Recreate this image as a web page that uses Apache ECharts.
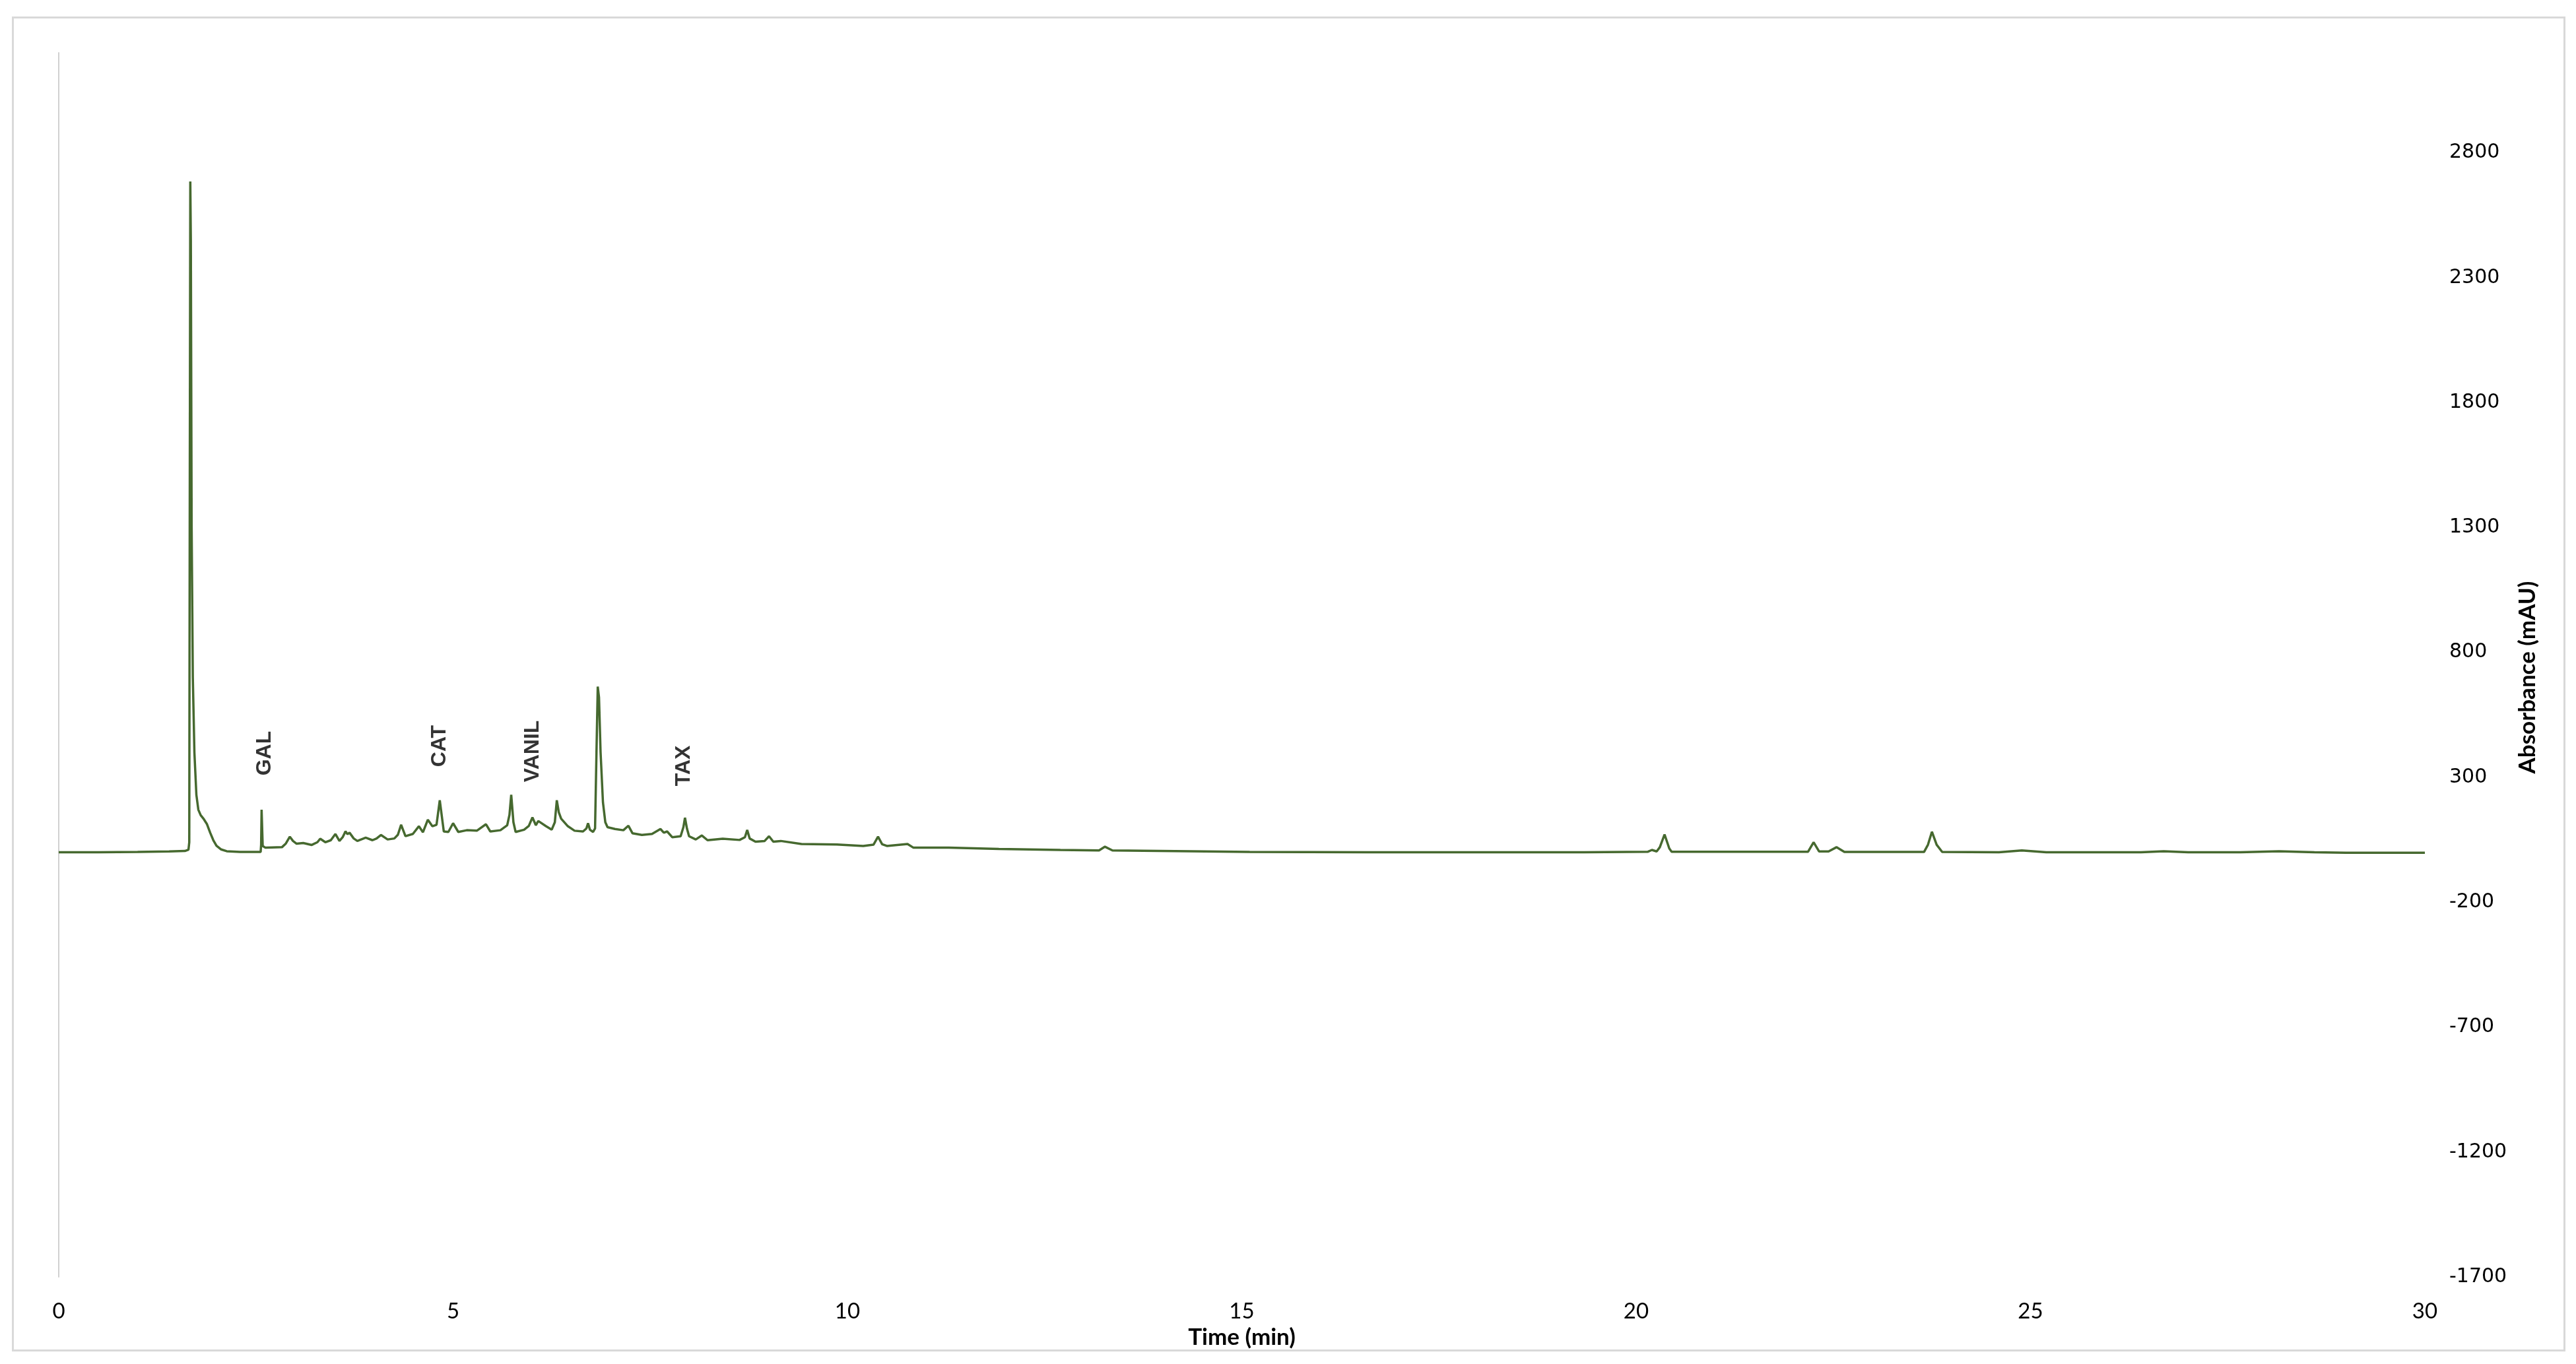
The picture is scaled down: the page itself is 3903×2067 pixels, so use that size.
<!DOCTYPE html>
<html>
<head>
<meta charset="utf-8">
<script src="https://cdn.jsdelivr.net/npm/echarts@6/dist/echarts.min.js"></script>
<style>
html,body{margin:0;padding:0;background:#ffffff;}
#chart{width:3903px;height:2067px;}
</style>
</head>
<body>
<div id="chart"></div>
<script>
// Retention time (min)
const times = [
0.00,0.50,1.00,1.40,1.60,1.645,1.655,1.662,1.668,1.675,1.685,1.700,1.720,1.745,1.770,1.800,1.840,1.880,1.920,1.960,2.000,2.060,2.130,2.300,
2.560,2.566,2.572,2.580,2.586,2.620,2.700,2.830,2.880,2.930,2.970,3.016,3.100,3.208,3.280,3.315,3.380,3.450,3.508,3.559,3.600,3.636,3.660,3.687,3.740,3.786,
3.892,3.978,4.030,4.085,4.170,4.255,4.300,4.341,4.396,4.490,4.566,4.618,4.680,4.737,4.790,4.831,4.882,4.940,5.000,5.066,5.173,5.301,5.417,5.472,5.600,5.686,
5.715,5.737,5.765,5.793,5.900,5.960,6.006,6.049,6.080,6.178,6.250,6.290,6.315,6.340,6.370,6.455,6.540,6.647,6.690,6.711,6.735,6.775,6.800,6.818,6.834,6.850,
6.870,6.900,6.930,6.958,7.052,7.159,7.223,7.274,7.394,7.522,7.629,7.672,7.714,7.778,7.885,7.920,7.940,7.965,7.992,8.077,8.154,8.226,8.418,8.632,8.700,8.729,
8.760,8.834,8.950,9.006,9.060,9.155,9.417,9.865,10.200,10.330,10.388,10.440,10.500,10.762,10.837,11.285,11.920,12.700,13.190,13.265,13.360,14.350,15.100,16.600,
19.340,20.150,20.200,20.260,20.300,20.360,20.420,20.450,21.000,22.180,22.250,22.320,22.440,22.540,22.640,23.650,23.700,23.750,23.810,23.880,24.600,24.890,25.200,
26.400,26.690,27.000,27.660,28.150,28.600,29.000,30.000
];
// Absorbance (mAU)
const absorbance = [
0,0,1,3,5,10,40,1600,2685,2450,1300,700,400,230,170,148,132,112,78,48,26,11,4,1,
1,30,170,165,25,18,19,20,35,62,45,34,37,29,40,54,40,48,73,45,60,84,72,78,55,45,
58,48,55,69,51,55,70,110,64,73,104,80,130,104,110,208,83,81,116,81,88,86,112,83,88,108,
150,230,120,81,90,105,139,108,125,104,90,120,208,160,134,104,86,83,95,116,90,81,95,400,663,620,
400,200,120,100,93,88,106,76,69,73,93,78,83,60,64,100,138,95,64,51,67,48,54,49,60,89,
55,42,45,64,42,45,33,31,25,30,62,32,25,33,18,18,13,9,7,22,7,4,1,0,
0,2,9,3,20,71,15,2,2,2,40,3,3,20,1,1,30,82,30,1,0,7,0,
0,4,0,0,4,0,-2,-2
];
// Peak annotations
const peakNames = ["GAL","CAT","VANIL","TAX"];
const peakTimes = [2.611, 4.828, 6.008, 7.925];
const peakLabelHeights = [396, 425, 404, 346];

const xTicks = {min:0, max:30, interval:5};
const yTicks = {min:-1700, max:3200, interval:500};

const lineData = times.map((t,i)=>[t, absorbance[i]]);
const labelData = peakNames.map((n,i)=>({name:n, value:[peakTimes[i], peakLabelHeights[i]]}));

const chart = echarts.init(document.getElementById('chart'), null, {renderer:'canvas'});
chart.setOption({
  backgroundColor:'#ffffff',
  animation:false,
  graphic:[{
    type:'rect', left:17, top:24, z:-1,
    shape:{width:3866, height:2020},
    style:{fill:'none', stroke:'#d9d9d9', lineWidth:3}
  }],
  grid:{left:89, right:229, top:80, bottom:132, containLabel:false},
  xAxis:{
    type:'value', min:xTicks.min, max:xTicks.max, interval:xTicks.interval,
    name:'Time (min)', nameLocation:'middle', nameGap:44,
    nameTextStyle:{fontFamily:'Lato', fontWeight:'bold', fontSize:35, color:'#000'},
    axisLine:{show:false}, axisTick:{show:false}, splitLine:{show:false},
    axisLabel:{fontFamily:'Lato', fontSize:33, color:'#000', margin:36}
  },
  yAxis:[{
    type:'value', position:'left', min:yTicks.min, max:yTicks.max, interval:yTicks.interval,
    axisLine:{show:true, lineStyle:{color:'#d0d0d0', width:2}},
    axisTick:{show:false}, splitLine:{show:false}, axisLabel:{show:false}
  },{
    type:'value', position:'right', min:yTicks.min, max:yTicks.max, interval:yTicks.interval,
    name:'Absorbance (mAU)', nameLocation:'middle', nameRotate:90, nameGap:138,
    nameTextStyle:{fontFamily:'Lato', fontWeight:'bold', fontSize:35, color:'#000', padding:[0,38,0,0]},
    axisLine:{show:false}, axisTick:{show:false}, splitLine:{show:false},
    axisLabel:{fontFamily:'DejaVu Sans', fontSize:30, color:'#000', margin:37, align:'left', showMaxLabel:false,
      formatter:v=>String(v)}
  }],
  series:[{
    type:'line', data:lineData, xAxisIndex:0, yAxisIndex:0,
    showSymbol:false, symbol:'none',
    lineStyle:{color:'#46692f', width:3.5}
  },{
    type:'scatter', data:labelData, xAxisIndex:0, yAxisIndex:0,
    symbolSize:0,
    label:{show:true, position:'inside', formatter:p=>p.name, rotate:90,
      fontFamily:'Liberation Sans', fontWeight:'bold', fontSize:32, color:'#000',
      align:'center', verticalAlign:'middle'}
  }]
});
</script>
</body>
</html>
